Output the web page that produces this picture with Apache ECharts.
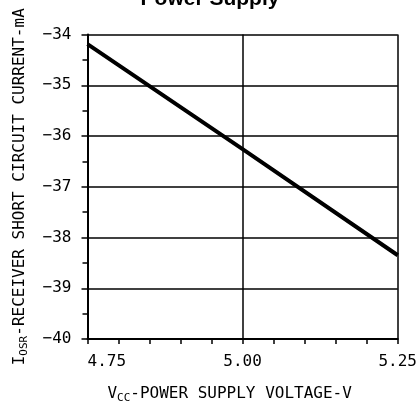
<!DOCTYPE html>
<html>
<head>
<meta charset="utf-8">
<style>
  html, body { margin: 0; padding: 0; background: #fff; }
  #chart { width: 420px; height: 409px; }
</style>
<script src="https://cdn.jsdelivr.net/npm/echarts@6/dist/echarts.min.js"></script>
</head>
<body>
<div id="chart"></div>
<script>
// Supply voltage (V) and receiver short-circuit current (mA)
const vccValues = [4.75, 5.00, 5.25];
const iosrValues = [-34.19, -36.26, -38.35];

const xTicks = { min: 4.75, max: 5.25, step: 0.25 };
const yTicks = { min: -40, max: -34, step: 1 };

const titleText = 'Power Supply';
const font = 'DejaVu Sans Mono';

const chart = echarts.init(document.getElementById('chart'), null, { renderer: 'canvas' });

chart.setOption({
  backgroundColor: '#fff',
  animation: false,
  title: {
    text: titleText,
    left: 'center',
    top: -16,
    textStyle: { fontFamily: 'Liberation Sans', fontWeight: 'bold', fontSize: 21, color: '#000' }
  },
  grid: { left: 87.5, right: 19.5, top: 34.5, bottom: 62.5 },
  xAxis: {
    type: 'value',
    min: xTicks.min, max: xTicks.max, interval: xTicks.step,
    name: '{m|V}{s|CC}{m|-POWER SUPPLY VOLTAGE-V}',
    nameLocation: 'middle',
    nameGap: 45,
    nameTextStyle: {
      padding: [0, 26, 0, 0],
      rich: {
        m: { fontFamily: font, fontSize: 16, color: '#000', lineHeight: 20 },
        s: { fontFamily: font, fontSize: 11, color: '#000', lineHeight: 13, verticalAlign: 'bottom' }
      }
    },
    axisLine: { show: true, lineStyle: { color: '#000', width: 2 } },
    axisTick: { show: true, inside: false, length: 5, lineStyle: { color: '#000', width: 1.5 } },
    minorTick: { show: true, splitNumber: 5, length: 5, lineStyle: { color: '#000', width: 1.5 } },
    splitLine: { show: true, lineStyle: { color: '#000', width: 1.5 } },
    axisLabel: {
      fontFamily: font, fontSize: 16, color: '#000', margin: 15,
      alignMinLabel: 'left',
      formatter: v => v.toFixed(2)
    }
  },
  yAxis: {
    type: 'value',
    min: yTicks.min, max: yTicks.max, interval: yTicks.step,
    name: '{m|I}{s|OSR}{m|-RECEIVER SHORT CIRCUIT CURRENT-mA}',
    nameLocation: 'middle',
    nameRotate: 90,
    nameGap: 58,
    nameTextStyle: {
      rich: {
        m: { fontFamily: font, fontSize: 16, color: '#000', lineHeight: 20 },
        s: { fontFamily: font, fontSize: 11, color: '#000', lineHeight: 13, verticalAlign: 'bottom' }
      }
    },
    axisLine: { show: true, lineStyle: { color: '#000', width: 2 } },
    axisTick: { show: true, inside: false, length: 6, lineStyle: { color: '#000', width: 1.5 } },
    minorTick: { show: true, splitNumber: 2, length: 5, lineStyle: { color: '#000', width: 1.5 } },
    splitLine: { show: true, lineStyle: { color: '#000', width: 1.5 } },
    axisLabel: {
      fontFamily: font, fontSize: 16, color: '#000', margin: 16,
      formatter: v => String(v).replace('-', '\u2212')
    }
  },
  series: [{
    type: 'line',
    data: vccValues.map((v, i) => [v, iosrValues[i]]),
    showSymbol: false,
    lineStyle: { color: '#000', width: 4 },
    z: 5
  }]
});
</script>
</body>
</html>
